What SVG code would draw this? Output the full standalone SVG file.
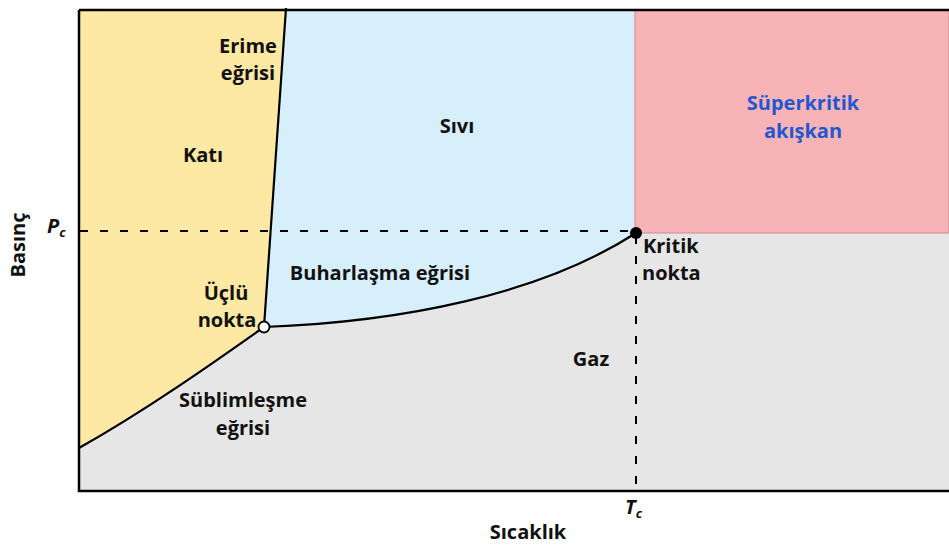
<svg xmlns="http://www.w3.org/2000/svg" width="949" height="545" viewBox="0 0 949 545">
<style>
.t{font-family:"Open Sans","Liberation Sans",sans-serif;font-weight:bold;font-size:20px;fill:#111;}
.m{text-anchor:middle;}
.blue{fill:#2357d0;}
.it{font-style:italic;}
.curve{fill:none;stroke:#000;stroke-width:2.2;}
.dash{fill:none;stroke:#000;stroke-width:2;stroke-dasharray:8 12;}
</style>
<rect x="0" y="0" width="949" height="545" fill="#fff"/>
<g id="gas-region"><rect x="79" y="10" width="870" height="481" fill="#e6e6e6"/></g>
<g id="solid-region"><path d="M79,10 L286,10 L264,327 C220,358 150,408 79,448 Z" fill="#fde8a4"/></g>
<g id="liquid-region"><path d="M286,10 L635,10 L635,233 L636,233 C540,295 400,322 264,327 Z" fill="#d7effb"/></g>
<g id="supercritical-region"><rect x="635" y="10" width="314" height="223" fill="#f8b3b6" stroke="#c98e91" stroke-width="1"/></g>
<g id="connectors">
<path class="dash" d="M80,231 H636"/>
<path class="dash" d="M636,236 V491"/>
<path class="curve" d="M286,8 L264,327"/>
<path class="curve" d="M264,327 C220,358 150,408 79,448"/>
<path class="curve" d="M264,327 C400,322 540,295 636,233"/>
</g>
<g id="axes">
<path d="M79,10 H949 M79,10 V491 H949" fill="none" stroke="#000" stroke-width="2.5"/>
</g>
<g id="triple-point"><circle cx="264" cy="327" r="5.5" fill="#fff" stroke="#000" stroke-width="1.8"/></g>
<g id="critical-point"><circle cx="636" cy="233" r="6" fill="#000"/></g>
<g id="labels">
<text class="t m" x="248" y="53">Erime</text>
<text class="t m" x="248" y="80">eğrisi</text>
<text class="t m" x="203" y="162">Katı</text>
<text class="t m" x="457" y="133">Sıvı</text>
<text class="t m blue" x="803" y="110">Süperkritik</text>
<text class="t m blue" x="803" y="138">akışkan</text>
<text class="t m" x="380" y="280">Buharlaşma eğrisi</text>
<text class="t m" x="226" y="300">Üçlü</text>
<text class="t m" x="227" y="327">nokta</text>
<text class="t" x="643" y="253">Kritik</text>
<text class="t" x="642" y="280">nokta</text>
<text class="t m" x="591" y="366">Gaz</text>
<text class="t m" x="243" y="407">Süblimleşme</text>
<text class="t m" x="243" y="435">eğrisi</text>
<text class="t it" x="47" y="233">P<tspan font-size="13" dy="4">c</tspan></text>
<text class="t it" x="625" y="514">T<tspan font-size="13" dy="4">c</tspan></text>
<text class="t m" x="528" y="539">Sıcaklık</text>
<text class="t m" transform="translate(25,245) rotate(-90)">Basınç</text>
</g>
</svg>
